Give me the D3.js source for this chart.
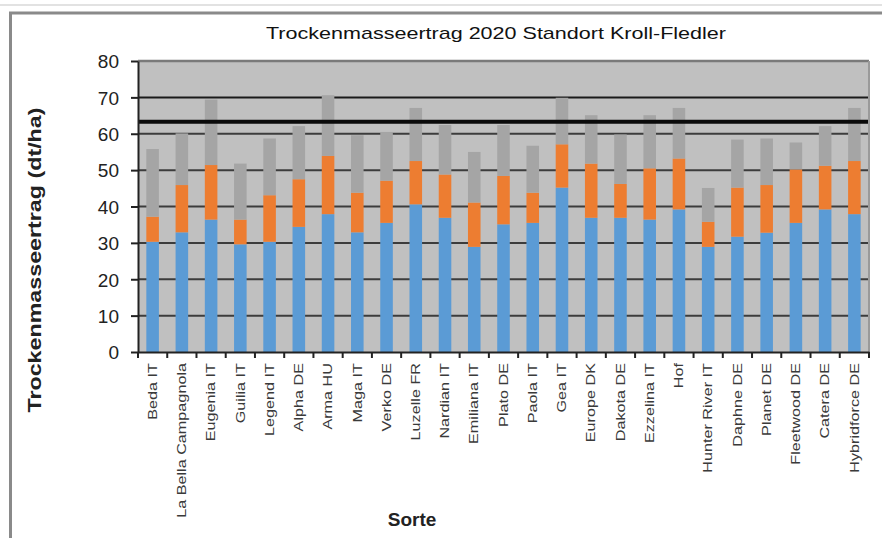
<!DOCTYPE html>
<html>
<head>
<meta charset="utf-8">
<script src="https://cdn.jsdelivr.net/npm/d3@7"></script>
<style>
  body { margin:0; background:#fff; }
  text { font-family: Arial, "Liberation Sans", sans-serif; }
</style>
</head>
<body>
<div id="chart"></div>
<script>
// Daten
var sorten = ['Beda IT','La Bella Campagnola','Eugenia IT','Guilia IT','Legend IT','Alpha DE','Arma HU','Maga IT',
	'Verko DE','Luzelle FR','Nardian IT','Emiliana IT','Plato DE','Paola IT','Gea IT','Europe DK','Dakota DE',
	'Ezzelina IT','Hof','Hunter River IT','Daphne DE','Planet DE','Fleetwood DE','Catera DE','Hybridforce DE'];
var blau = [30.3,32.9,36.4,29.6,30.3,34.4,37.9,32.9,35.5,40.6,36.9,28.9,35.1,35.5,45.2,36.9,36.9,36.4,39.2,28.9,31.7,32.8,35.5,39.2,37.9];
var orange = [6.9,13.0,15.0,6.8,12.8,13.1,16.0,10.9,11.6,11.9,11.9,12.2,13.3,8.3,11.9,14.9,9.3,14.1,14.0,6.9,13.5,13.1,14.7,12.0,14.6];
var grau = [18.6,14.2,18.0,15.4,15.6,14.6,16.7,15.8,13.4,14.6,13.6,13.9,14.0,12.9,12.8,13.3,13.6,14.6,13.9,9.3,13.2,12.8,7.4,10.9,14.6];
var mittelwert = 63.3;
var yTicks = [0,10,20,30,40,50,60,70,80];

var svgWidth = 882, svgHeight = 538;
var plot = {left:138, right:869, top:61, bottom:352};

var svg = d3.select('#chart').append('svg')
	.attr('width', svgWidth)
	.attr('height', svgHeight);

// Rahmen
svg.append('line').attr('x1',0).attr('x2',svgWidth).attr('y1',5).attr('y2',5)
	.attr('stroke','#e2e2e2').attr('stroke-width',2);
svg.append('line').attr('x1',9).attr('x2',svgWidth).attr('y1',13).attr('y2',13)
	.attr('stroke','#8a8a8a').attr('stroke-width',3);
svg.append('line').attr('x1',10.5).attr('x2',10.5).attr('y1',12).attr('y2',svgHeight)
	.attr('stroke','#8a8a8a').attr('stroke-width',3);

var rows = sorten.map((s,i) => ({sorte:s, blau:blau[i], orange:orange[i], grau:grau[i]}));
var stack = d3.stack().keys(['blau','orange','grau'])(rows);
var farben = {blau:'#5b9bd5', orange:'#ed7d31', grau:'#a5a5a5'};

var x = d3.scaleBand().domain(sorten).range([plot.left, plot.right]).paddingInner(0.57).paddingOuter(0.285);
var y = d3.scaleLinear().domain([0,80]).range([plot.bottom, plot.top]);

// Hintergrund
svg.append('rect')
	.attr('x', plot.left).attr('y', y(80))
	.attr('width', plot.right - plot.left).attr('height', y(0) - y(80))
	.attr('fill','#c0c0c0');

// Gitterlinien
svg.append('g').selectAll('line')
	.data(yTicks.filter(t => t > 0 && t < 80))
	.enter().append('line')
	.attr('x1', plot.left).attr('x2', plot.right)
	.attr('y1', d => y(d)).attr('y2', d => y(d))
	.attr('stroke', d => d === 70 ? '#1a1a1a' : '#3c3c3c')
	.attr('stroke-width', 2);

// Balken
svg.append('g').selectAll('g')
	.data(stack)
	.enter().append('g')
	.attr('fill', d => farben[d.key])
	.selectAll('rect')
	.data(d => d)
	.enter().append('rect')
	.attr('x', d => x(d.data.sorte))
	.attr('y', d => y(d[1]))
	.attr('width', x.bandwidth())
	.attr('height', d => y(d[0]) - y(d[1]));

// Mittelwertlinie
svg.append('line')
	.attr('x1', plot.left).attr('x2', plot.right)
	.attr('y1', y(mittelwert)).attr('y2', y(mittelwert))
	.attr('stroke','#0a0a0a').attr('stroke-width',4);

// Rahmen oben / rechts
svg.append('line').attr('x1',plot.left).attr('x2',plot.right).attr('y1',y(80)).attr('y2',y(80))
	.attr('stroke','#7a7a7a').attr('stroke-width',2.5);
svg.append('line').attr('x1',plot.right).attr('x2',plot.right).attr('y1',y(80)).attr('y2',y(0))
	.attr('stroke','#9a9a9a').attr('stroke-width',2);

// Y-Achse
var yAxis = svg.append('g')
	.attr('transform', `translate(${plot.left},0)`)
	.call(d3.axisLeft(y).tickValues(yTicks).tickSize(7).tickPadding(12).tickSizeOuter(0));
yAxis.select('.domain').attr('stroke','#222').attr('stroke-width',2);
yAxis.selectAll('.tick line').attr('stroke','#222').attr('stroke-width',2);
yAxis.selectAll('.tick text')
	.attr('font-size', 19)
	.attr('fill', '#222')
	.attr('dy', '0.36em');

// X-Achse
var xAxis = svg.append('g')
	.attr('transform', `translate(0,${plot.bottom})`)
	.call(d3.axisBottom(x).tickSize(0).tickSizeOuter(0));
xAxis.select('.domain').attr('stroke','#222').attr('stroke-width',2);
xAxis.selectAll('.tick text')
	.attr('font-size', 12)
	.attr('fill', '#3a3a3a')
	.attr('text-anchor','end')
	.attr('transform','translate(0,11) rotate(-90) scale(1.35,1)')
	.attr('x', 0).attr('y', 0).attr('dy','0.35em');

// Teilstriche zwischen den Sorten
var grenzen = sorten.map(s => x(s) + x.bandwidth()/2 - x.step()/2).concat([plot.right]);
xAxis.append('g').selectAll('line')
	.data(grenzen)
	.enter().append('line')
	.attr('x1', d => d).attr('x2', d => d)
	.attr('y1', 0).attr('y2', 6)
	.attr('stroke','#222').attr('stroke-width',2);

// Titel
svg.append('text')
	.attr('x', 496).attr('y', 39)
	.attr('text-anchor','middle')
	.attr('font-size', 17)
	.attr('textLength', 460).attr('lengthAdjust','spacingAndGlyphs')
	.attr('fill','#111')
	.text('Trockenmasseertrag 2020 Standort Kroll-Fledler');

svg.append('text')
	.attr('transform', `translate(41,260)rotate(-90)`)
	.attr('text-anchor','middle')
	.attr('font-size', 18)
	.attr('font-weight','bold')
	.attr('textLength', 305).attr('lengthAdjust','spacingAndGlyphs')
	.attr('fill','#222')
	.text('Trockenmasseertrag (dt/ha)');

svg.append('text')
	.attr('x', 412).attr('y', 526)
	.attr('text-anchor','middle')
	.attr('font-size', 19)
	.attr('font-weight','bold')
	.attr('fill','#222')
	.text('Sorte');
</script>
</body>
</html>
